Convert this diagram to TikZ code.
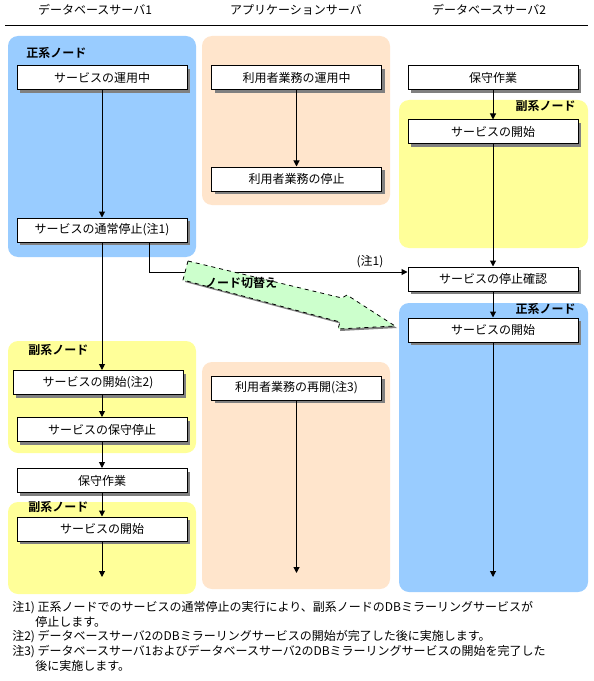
\documentclass[tikz,border=0pt]{standalone}
\usepackage{fontspec}
\setmainfont{Noto Sans CJK JP}[BoldFont={* Bold}]
\usetikzlibrary{arrows.meta, positioning, shadows}
\definecolor{mainblue}{HTML}{99CCFF}
\definecolor{subyellow}{HTML}{FFFF99}
\definecolor{apppeach}{HTML}{FFE5CC}
\definecolor{switchgreen}{HTML}{CCFFCC}
\definecolor{shadowgray}{HTML}{808080}
\tikzset{
  stepbox/.style={draw, fill=white, minimum height=18pt, minimum width=127.5pt, inner sep=1pt,
      text centered, font=\fontsize{9}{10}\selectfont, line width=0.75pt,
      drop shadow={shadow xshift=2.25pt, shadow yshift=-2.25pt, fill=shadowgray, opacity=1}},
  panel/.style={fill=#1, rounded corners=7.5pt},
  panellbl/.style={font=\fontsize{9}{10}\selectfont\bfseries, inner sep=0pt},
  headlbl/.style={font=\fontsize{9}{10}\selectfont},
  notelbl/.style={font=\fontsize{9}{10}\selectfont, anchor=west, inner sep=0pt},
  flowarrow/.style={-{Triangle[length=4.5pt, width=4.5pt]}, line width=0.75pt},
  switcharrow/.style={draw, dashed, fill=switchgreen, line width=0.6pt},
}

\begin{document}
\begin{tikzpicture}[x=0.75pt, y=-0.75pt]
  \useasboundingbox (0,0) rectangle (593,681);
  \fill[white] (0,0) rectangle (593,681);

  % column headers
  \node[headlbl] (hdb1) at (95,10) {データベースサーバ1};
  \node[headlbl] (happ) at (296,10) {アプリケーションサーバ};
  \node[headlbl] (hdb2) at (489,10) {データベースサーバ2};
  \draw[line width=0.75pt] (5,26) -- (588,26);

  % background panels
  \fill[panel=mainblue] (8,36) rectangle (196,257);
  \fill[panel=apppeach] (202,36) rectangle (390,205);
  \fill[panel=subyellow] (399,100) rectangle (588,248);
  \fill[panel=mainblue] (399,303) rectangle (588,592);
  \fill[panel=subyellow] (8,341) rectangle (196,453);
  \fill[panel=subyellow] (8,502) rectangle (196,594);
  \fill[panel=apppeach] (202,362) rectangle (390,589);

  \node[panellbl, anchor=west] (lmain1) at (26,53) {正系ノード};
  \node[panellbl, anchor=west] (lsub1) at (28,350) {副系ノード};
  \node[panellbl, anchor=west] (lsub2) at (28,507) {副系ノード};
  \node[panellbl, anchor=east] (lsub3) at (576,106) {副系ノード};
  \node[panellbl, anchor=east] (lmain3) at (576,309) {正系ノード};

  % database server 1
  \node[stepbox] (run1) at (102,78) {サービスの運用中};
  \node[stepbox] (stop1) at (102,230) {サービスの通常停止(注1)};
  \node[stepbox] (start1) at (98,382.5) {サービスの開始(注2)};
  \node[stepbox] (hold1) at (102,429.5) {サービスの保守停止};
  \node[stepbox] (maint1) at (102,480.5) {保守作業};
  \node[stepbox] (restart1) at (102,529) {サービスの開始};
  \coordinate (end1) at (102,577);

  % application server
  \node[stepbox] (apprun) at (296.5,78) {利用者業務の運用中};
  \node[stepbox] (appstop) at (296.5,179) {利用者業務の停止};
  \node[stepbox] (appresume) at (296.5,388) {利用者業務の再開(注3)};
  \coordinate (end2) at (296.5,573);

  % database server 2
  \node[stepbox] (maint2) at (493,78) {保守作業};
  \node[stepbox] (start2) at (493,132) {サービスの開始};
  \node[stepbox] (check2) at (493,279) {サービスの停止確認};
  \node[stepbox] (restart2) at (493,330) {サービスの開始};
  \coordinate (end3) at (493,577);

  % flow
  \draw[flowarrow] (run1) -- (stop1);
  \draw[flowarrow] (stop1.south) -- (stop1.south |- start1.north);
  \draw[flowarrow] (hold1.north |- start1.south) -- (hold1);
  \draw[flowarrow] (hold1) -- (maint1);
  \draw[flowarrow] (maint1) -- (restart1);
  \draw[flowarrow] (restart1) -- (end1);
  \draw[flowarrow] (apprun) -- (appstop);
  \draw[flowarrow] (appresume) -- (end2);
  \draw[flowarrow] (maint2) -- (start2);
  \draw[flowarrow] (start2) -- (check2);
  \draw[flowarrow] (check2) -- (restart2);
  \draw[flowarrow] (restart2) -- (end3);

  \coordinate (turn) at (149,272);
  \draw[flowarrow] (stop1.south -| turn) -- (turn) -- (turn -| check2.west);
  \node[headlbl] (note1ref) at (370,262) {(注1)};

  % node switch arrow
  \fill[shadowgray, shift={(2,2)}] (188,261) -- (342,298) -- (347,295) -- (395,326)
      -- (338,329) -- (340,322) -- (183,280) -- cycle;
  \draw[switcharrow] (188,261) -- (342,298) -- (347,295) -- (395,326)
      -- (338,329) -- (340,322) -- (183,280) -- cycle;
  \node[panellbl] (switchlbl) at (241,283) {ノード切替え};

  % notes
  \node[notelbl] (note1a) at (12,608) {注1)\ 正系ノードでのサービスの通常停止の実行により、副系ノードのDBミラーリングサービスが};
  \node[notelbl] (note1b) at (35,622) {停止します。};
  \node[notelbl] (note2) at (12,637) {注2)\ データベースサーバ2のDBミラーリングサービスの開始が完了した後に実施します。};
  \node[notelbl] (note3a) at (12,652) {注3)\ データベースサーバ1およびデータベースサーバ2のDBミラーリングサービスの開始を完了した};
  \node[notelbl] (note3b) at (35,666) {後に実施します。};
\end{tikzpicture}
\end{document}
